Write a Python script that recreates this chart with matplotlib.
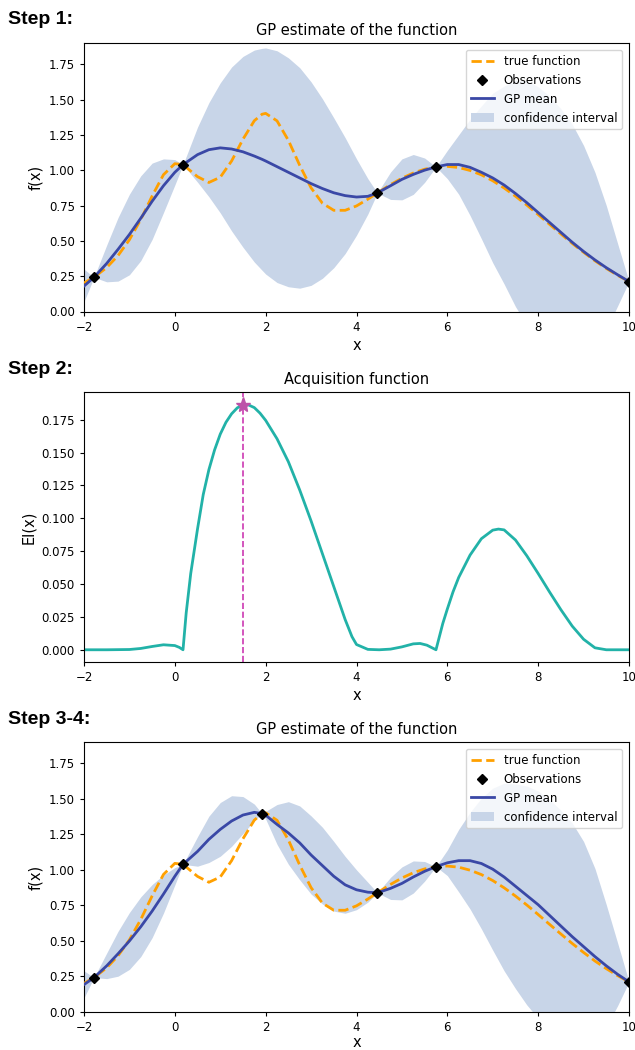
import numpy as np
import matplotlib
matplotlib.use("Agg")
import matplotlib.pyplot as plt
from matplotlib.lines import Line2D
from matplotlib.patches import Patch

# ---------------- data ----------------
X = [-2, -1.78, -1.5, -1.25, -1, -0.75, -0.5, -0.25, 0, 0.18, 0.5, 0.75, 1, 1.25,
     1.5, 1.75, 1.92, 2, 2.25, 2.5, 2.75, 3, 3.25, 3.5, 3.75, 4, 4.25, 4.46, 4.75,
     5, 5.25, 5.5, 5.75, 6, 6.25, 6.5, 6.75, 7, 7.25, 7.5, 7.75, 8, 8.25, 8.5,
     8.75, 9, 9.25, 9.5, 9.75, 10]

TRUE_F = [0.202, 0.242, 0.311, 0.396, 0.508, 0.651, 0.817, 0.968, 1.046, 1.039,
          0.954, 0.913, 0.950, 1.065, 1.219, 1.350, 1.396, 1.402, 1.349, 1.211,
          1.034, 0.875, 0.766, 0.716, 0.716, 0.747, 0.795, 0.839, 0.898, 0.943,
          0.980, 1.007, 1.023, 1.027, 1.019, 0.998, 0.967, 0.925, 0.874, 0.816,
          0.753, 0.686, 0.617, 0.549, 0.482, 0.419, 0.359, 0.305, 0.256, 0.212]

# Step 1 GP
MEAN_1 = [0.18, 0.242, 0.34, 0.44, 0.545, 0.66, 0.78, 0.89, 0.985, 1.039,
          1.11, 1.145, 1.158, 1.15, 1.13, 1.10, 1.077, 1.065, 1.025, 0.985,
          0.945, 0.905, 0.87, 0.84, 0.82, 0.81, 0.815, 0.839, 0.89, 0.935,
          0.97, 1.00, 1.023, 1.04, 1.04, 1.02, 0.985, 0.945, 0.895, 0.835,
          0.77, 0.70, 0.63, 0.56, 0.49, 0.425, 0.365, 0.31, 0.26, 0.212]
UPPER_1 = [0.30, 0.242, 0.47, 0.665, 0.83, 0.96, 1.05, 1.08, 1.075, 1.039,
           1.305, 1.478, 1.618, 1.73, 1.805, 1.85, 1.862, 1.865, 1.845, 1.795,
           1.725, 1.625, 1.505, 1.37, 1.23, 1.08, 0.94, 0.839, 0.987, 1.08,
           1.111, 1.086, 1.023, 1.14, 1.25, 1.36, 1.455, 1.545, 1.595, 1.635,
           1.635, 1.59, 1.525, 1.435, 1.325, 1.175, 0.985, 0.75, 0.48, 0.212]
LOWER_1 = [0.07, 0.242, 0.21, 0.215, 0.26, 0.36, 0.51, 0.70, 0.895, 1.039,
           0.915, 0.812, 0.698, 0.57, 0.455, 0.35, 0.292, 0.265, 0.205, 0.175,
           0.165, 0.185, 0.235, 0.31, 0.41, 0.54, 0.69, 0.839, 0.793, 0.79,
           0.829, 0.914, 1.023, 0.94, 0.83, 0.68, 0.515, 0.345, 0.195, 0.035,
           -0.095, -0.19, -0.265, -0.315, -0.345, -0.325, -0.255, -0.13, 0.04, 0.212]
OBS_X_1 = [-1.78, 0.18, 4.46, 5.75, 10.0]
OBS_Y_1 = [0.242, 1.039, 0.839, 1.023, 0.212]

# Step 2 acquisition (expected improvement), sampled where read
EI_X = [-2, -1.5, -1, -0.75, -0.5, -0.25, 0, 0.1, 0.18, 0.25, 0.35, 0.5, 0.625,
        0.75, 0.875, 1.0, 1.125, 1.25, 1.375, 1.5, 1.625, 1.75, 1.875, 2.0, 2.25,
        2.5, 2.75, 3.0, 3.25, 3.5, 3.75, 3.9, 4.0, 4.25, 4.5, 4.75, 5.0, 5.25,
        5.4, 5.55, 5.75, 5.9, 6.0, 6.125, 6.25, 6.5, 6.75, 7.0, 7.125, 7.25,
        7.5, 7.75, 8.0, 8.25, 8.5, 8.75, 9.0, 9.25, 9.5, 10]
EI = [0.0, 0.0, 0.0002, 0.001, 0.0025, 0.0038, 0.0032, 0.0018, 0.0, 0.028,
      0.058, 0.092, 0.118, 0.137, 0.152, 0.164, 0.173, 0.1795, 0.184, 0.1864,
      0.1862, 0.1842, 0.180, 0.1745, 0.1605, 0.143, 0.1215, 0.098, 0.073,
      0.048, 0.023, 0.010, 0.004, 0.0003, 0.0, 0.0005, 0.0022, 0.0045, 0.0048,
      0.0035, 0.0, 0.020, 0.031, 0.044, 0.055, 0.072, 0.0845, 0.091, 0.0918,
      0.0912, 0.0835, 0.0715, 0.058, 0.044, 0.0305, 0.018, 0.008, 0.0015, 0.0,
      0.0]
NEXT_X = 1.5
NEXT_EI = 0.1864

# Step 3-4 GP
MEAN_3 = [0.193, 0.242, 0.325, 0.41, 0.50, 0.60, 0.71, 0.83, 0.955, 1.039,
          1.13, 1.215, 1.285, 1.344, 1.386, 1.405, 1.396, 1.385, 1.32, 1.26,
          1.19, 1.105, 1.03, 0.955, 0.895, 0.86, 0.843, 0.839, 0.87, 0.905,
          0.95, 0.99, 1.023, 1.05, 1.065, 1.065, 1.045, 1.005, 0.95, 0.885,
          0.82, 0.755, 0.68, 0.605, 0.53, 0.46, 0.39, 0.325, 0.265, 0.212]
UPPER_3 = [0.29, 0.242, 0.415, 0.568, 0.70, 0.81, 0.897, 0.964, 1.016, 1.039,
           1.234, 1.378, 1.474, 1.522, 1.516, 1.463, 1.396, 1.412, 1.46, 1.48,
           1.45, 1.38, 1.30, 1.20, 1.095, 1.0, 0.913, 0.839, 0.948, 1.021,
           1.063, 1.059, 1.023, 1.14, 1.285, 1.405, 1.505, 1.575, 1.61, 1.605,
           1.59, 1.555, 1.495, 1.42, 1.33, 1.20, 1.01, 0.755, 0.485, 0.212]
LOWER_3 = [0.10, 0.242, 0.235, 0.252, 0.30, 0.39, 0.523, 0.696, 0.894, 1.039,
           1.026, 1.052, 1.096, 1.166, 1.256, 1.347, 1.396, 1.358, 1.18, 1.04,
           0.93, 0.83, 0.76, 0.71, 0.695, 0.72, 0.773, 0.839, 0.792, 0.789,
           0.837, 0.921, 1.023, 0.96, 0.845, 0.725, 0.585, 0.435, 0.29, 0.165,
           0.05, -0.045, -0.135, -0.21, -0.27, -0.28, -0.23, -0.105, 0.045, 0.212]
OBS_X_3 = [-1.78, 0.18, 1.92, 4.46, 5.75, 10.0]
OBS_Y_3 = [0.242, 1.039, 1.396, 0.839, 1.023, 0.212]

X_TICKS = [-2, 0, 2, 4, 6, 8, 10]
GP_YTICKS = [0.0, 0.25, 0.5, 0.75, 1.0, 1.25, 1.5, 1.75]
EI_YTICKS = [0.0, 0.025, 0.05, 0.075, 0.1, 0.125, 0.15, 0.175]
STEP_LABELS = ["Step 1:", "Step 2:", "Step 3-4:"]
GP_TITLE = "GP estimate of the function"
EI_TITLE = "Acquisition function"
LEGEND_LABELS = ["true function", "Observations", "GP mean", "confidence interval"]

# ---------------- style ----------------
C_TRUE = "#ffa000"
C_MEAN = "#3a48a6"
C_BAND = "#c8d5e8"
C_EI = "#22b2a8"
C_STAR = "#bd52a8"
C_VLINE = "#cc38b2"

TICK_FS = 8.5
LABEL_FS = 10.5
TITLE_FS = 10.5
LEGEND_FS = 8.5

plt.rcParams["font.family"] = "DejaVu Sans"

fig = plt.figure(figsize=(6.35, 10.5), dpi=100)
L, W = 84 / 635, (629 - 84) / 635


def ax_rect(top_px, bottom_px):
    return [L, 1 - bottom_px / 1050, W, (bottom_px - top_px) / 1050]


def style_axes(ax, labelpad=3):
    ax.tick_params(labelsize=TICK_FS, length=3, width=0.8)
    ax.set_xlim(-2, 10)
    ax.set_xticks(X_TICKS)
    ax.set_xlabel("x", fontsize=LABEL_FS, labelpad=labelpad)


def gp_panel(ax, mean, upper, lower, obs_x, obs_y, labelpad=3):
    ax.plot(X, TRUE_F, color=C_TRUE, ls="--", lw=2, zorder=3)
    ax.plot(obs_x, obs_y, "D", color="k", ms=5.5, zorder=5)
    ax.plot(X, mean, color=C_MEAN, lw=2, zorder=4)
    ax.fill_between(X, lower, upper, color=C_BAND, lw=0, zorder=1)
    ax.set_ylim(0, 1.9)
    ax.set_yticks(GP_YTICKS)
    style_axes(ax, labelpad)
    ax.set_ylabel("f(x)", fontsize=LABEL_FS)
    ax.set_title(GP_TITLE, fontsize=TITLE_FS, pad=6)
    handles = [Line2D([], [], color=C_TRUE, ls="--", lw=2),
               Line2D([], [], marker="D", color="k", ls="none", ms=5.5),
               Line2D([], [], color=C_MEAN, lw=2),
               Patch(facecolor=C_BAND, edgecolor="none")]
    ax.legend(handles, LEGEND_LABELS, loc="upper right", fontsize=LEGEND_FS,
              borderaxespad=0.6)


ax1 = fig.add_axes(ax_rect(43, 311.5))
gp_panel(ax1, MEAN_1, UPPER_1, LOWER_1, OBS_X_1, OBS_Y_1)

ax2 = fig.add_axes(ax_rect(392.5, 662))
ax2.plot(EI_X, EI, color=C_EI, lw=2)
ax2.axvline(NEXT_X, color=C_VLINE, ls="--", lw=1.2)
ax2.plot([NEXT_X], [NEXT_EI], marker="*", color=C_STAR, ms=11, ls="none")
ax2.set_ylim(-0.0093, 0.1957)
ax2.set_yticks(EI_YTICKS)
style_axes(ax2)
ax2.set_ylabel("EI(x)", fontsize=LABEL_FS)
ax2.set_title(EI_TITLE, fontsize=TITLE_FS, pad=6)

ax3 = fig.add_axes(ax_rect(742, 1012))
gp_panel(ax3, MEAN_3, UPPER_3, LOWER_3, OBS_X_3, OBS_Y_3, labelpad=0.5)

for label, ypx in zip(STEP_LABELS, [19, 369, 720]):
    fig.text(8 / 635, 1 - ypx / 1050, label, fontsize=14, fontweight="bold",
             family="Liberation Sans", va="center", ha="left")

fig.savefig("out.png", dpi=100)
